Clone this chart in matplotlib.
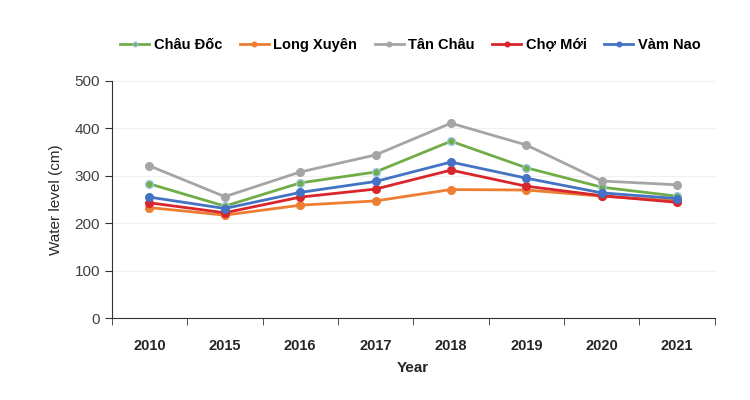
import numpy as np
import matplotlib.pyplot as plt
from matplotlib.ticker import FixedLocator

years = ['2010', '2015', '2016', '2017', '2018', '2019', '2020', '2021']

chau_doc = [283, 236, 285, 308, 373, 317, 276, 257]
long_xuyen = [233, 217, 238, 247, 271, 270, 257, 247]
tan_chau = [321, 256, 308, 344, 411, 365, 289, 281]
cho_moi = [243, 222, 255, 272, 312, 278, 258, 244]
vam_nao = [255, 231, 265, 288, 329, 295, 264, 252]

plt.rcParams['font.family'] = ['Liberation Sans', 'DejaVu Sans']

fig = plt.figure(figsize=(7.5, 4.0), dpi=100)
ax = fig.add_axes([0.149, 0.205, 0.804, 0.5925])

x = np.arange(len(years))
series = [
    (chau_doc, 'Châu Đốc', '#70ad47', '#9dc3e6'),
    (long_xuyen, 'Long Xuyên', '#ed7d31', '#ed7d31'),
    (tan_chau, 'Tân Châu', '#a5a5a5', '#a5a5a5'),
    (cho_moi, 'Chợ Mới', '#d9262c', '#d9262c'),
    (vam_nao, 'Vàm Nao', '#4472c4', '#4472c4'),
]
for vals, name, col, edge in series:
    ax.plot(x, vals, '-o', color=col, lw=2.0, ms=5.5, mfc=col, mec=edge,
            mew=1.0, label=name)

ax.set_xlim(-0.5, len(years) - 0.5)
ax.set_ylim(0, 500)
ax.set_yticks(range(0, 501, 100))
ax.set_xticks(x)
ax.set_xticklabels(years, fontsize=10.5, fontweight='bold', color='#262626')
ax.tick_params(axis='x', which='major', length=0, pad=15)
ax.xaxis.set_minor_locator(FixedLocator(np.arange(-0.5, len(years), 1.0)))
ax.tick_params(axis='x', which='minor', length=5, direction='out', color='#333333')
ax.tick_params(axis='y', length=5, direction='out', color='#333333',
               labelsize=11, labelcolor='#404040')

ax.grid(axis='y', color='#f0f0f0', lw=0.8)
ax.set_axisbelow(True)
for s in ['top', 'right']:
    ax.spines[s].set_visible(False)
ax.spines['left'].set_color('#333333')
ax.spines['bottom'].set_color('#333333')

ax.set_xlabel('Year', fontsize=11, fontweight='bold', color='#262626', labelpad=6)
ax.set_ylabel('Water level (cm)', fontsize=11, color='#262626', labelpad=8)

fig.legend(loc='center', bbox_to_anchor=(0.547, 0.887), ncol=5, frameon=False,
           handlelength=2.0, handletextpad=0.3, columnspacing=1.2,
           markerscale=0.6, prop={'weight': 'bold', 'size': 10.5})

fig.savefig('out.png', dpi=100)
